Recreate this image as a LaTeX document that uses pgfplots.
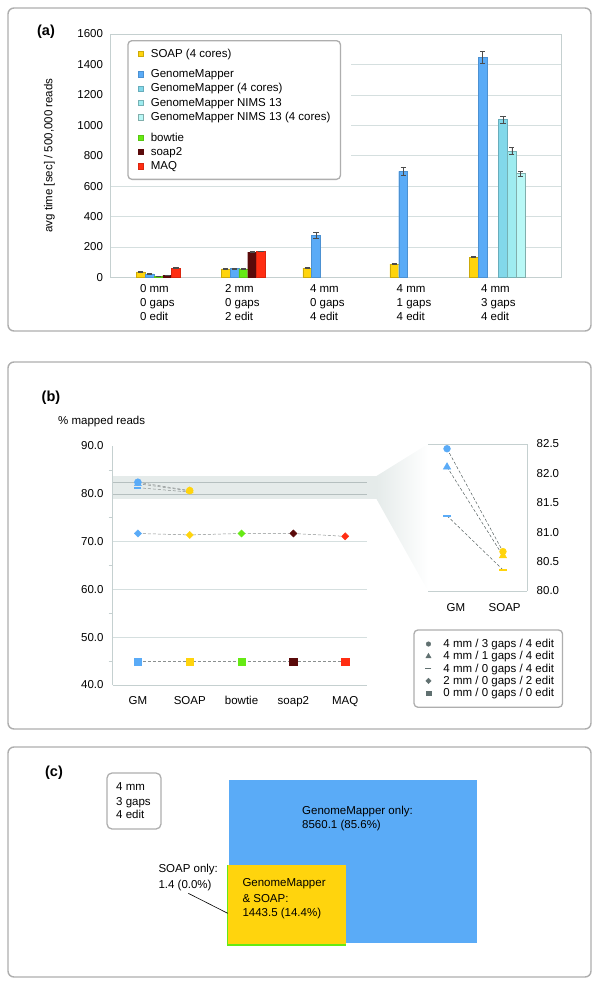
\documentclass[border=0pt]{standalone}
\usepackage{fontspec}
\setmainfont{Liberation Sans}
\usepackage{pgfplots}
\pgfplotsset{compat=1.18}

\definecolor{cSOAP}{HTML}{FFD40D}
\definecolor{cGM}{HTML}{5AABF7}
\definecolor{cGMf}{HTML}{82D8EA}
\definecolor{cNIMS}{HTML}{9EECF0}
\definecolor{cNIMSf}{HTML}{B9F8F6}
\definecolor{cBow}{HTML}{66EA14}
\definecolor{cSoapii}{HTML}{5A0A0A}
\definecolor{cMAQ}{HTML}{FF2D12}
\definecolor{gridc}{HTML}{D5DFDF}
\definecolor{axisc}{HTML}{C5D0D0}
\definecolor{framec}{HTML}{AEAEAE}
\definecolor{bandc}{HTML}{E5EBEA}
\definecolor{bandline}{HTML}{B5BFBF}
\definecolor{markgray}{HTML}{607070}
\definecolor{dashc}{HTML}{8A8F8F}
\definecolor{darkline}{HTML}{556060}

\newcommand{\chartfont}{\fontsize{11.5}{14}\selectfont}
\newcommand{\lr}{\rule[-2.5pt]{0pt}{11.1pt}}

\pgfplotsset{
  /pgf/number format/assume math mode=true,
  /pgf/number format/1000 sep={},
  sqlegend/.style={legend image code/.code={%
    \fill[line width=0.4pt, ##1, sharp corners] (0pt,-2.7pt) rectangle (5.4pt,2.7pt);
    \path[draw=none, fill=none] (0pt,0pt) -- (12.7pt,0pt);}},
  mklegend/.style={legend image code/.code={%
    \draw[line width=0.4pt, ##1, sharp corners] plot coordinates {(6pt,0pt)};
    \path[draw=none, fill=none] (0pt,0pt) -- (21pt,0pt);}},
}

\begin{document}
\begin{tikzpicture}
\useasboundingbox (0pt,0pt) rectangle (600pt,-984pt);

% panel frames
\draw[framec, line width=1.4pt, rounded corners=6pt] (8pt,-8pt) rectangle (591pt,-331pt);
\draw[framec, line width=1.4pt, rounded corners=6pt] (8pt,-362pt) rectangle (591pt,-729pt);
\draw[framec, line width=1.4pt, rounded corners=6pt] (8pt,-747pt) rectangle (591pt,-977pt);

% (a) run times
\begin{axis}[
  at={(110.5pt,-277.3pt)}, anchor=south west,
  scale only axis, width=450.5pt, height=243.3pt,
  xmin=0, xmax=450.5, ymin=0, ymax=1600,
  xtick={46.8,131.8,216.8,303.5,387.8},
  xticklabels={{0 mm\\0 gaps\\0 edit},{2 mm\\0 gaps\\2 edit},{4 mm\\0 gaps\\4 edit},{4 mm\\1 gaps\\4 edit},{4 mm\\3 gaps\\4 edit}},
  ytick={0,200,...,1600},
  tick label style={font=\chartfont},
  xticklabel style={align=left, anchor=north, yshift=-3.8pt},
  yticklabel style={xshift=-4pt},
  scaled y ticks=false,
  major tick length=0pt,
  ymajorgrids, grid style={gridc, line width=0.6pt},
  axis line style={axisc, line width=0.6pt},
  ylabel={avg time [sec] / 500,000 reads},
  ylabel style={font=\chartfont, at={(axis description cs:-0.1354,0.5)}, anchor=center},
  bar width=8.8,
  every axis plot/.append style={ybar, bar shift=0pt, line width=0.4pt, sqlegend},
  error bars/y dir=both, error bars/y explicit,
  error bars/error bar style={black!70, line width=0.6pt},
  error bars/error mark options={rotate=90, mark size=2.6pt, black!70, line width=0.6pt},
  legend cell align=left,
  legend style={at={(0.0373,0.9753)}, anchor=north west, draw=framec, line width=1.3pt,
    rounded corners=4pt, fill=white, inner xsep=10pt, inner ysep=8pt, row sep=4.3pt,
    font=\chartfont, nodes={inner sep=0pt}},
]
\fill[white] (axis cs:0.6,615) rectangle (axis cs:240,1575);

\addplot[fill=cSOAP, draw=cSOAP!80!black] coordinates {
  (30.3,36) +- (0,3) (115.2,56) +- (0,3) (196.7,61) +- (0,3) (283.8,87) +- (0,4) (363.3,133) +- (0,4)};
\addlegendentry{\lr SOAP (4 cores)}
\addlegendimage{empty legend}
\addlegendentry{\rule{0pt}{0.1pt}}
\addplot[fill=cGM, draw=cGM!85!black] coordinates {
  (39.1,23) +- (0,2) (124.0,58) +- (0,3) (205.5,276) +- (0,20) (292.6,697) +- (0,29) (372.1,1447) +- (0,41)};
\addlegendentry{\lr GenomeMapper}
\addplot[fill=cGMf, draw=cGMf!80!black] coordinates {(392.5,1037) +- (0,22)};
\addlegendentry{\lr GenomeMapper (4 cores)}
\addplot[fill=cNIMS, draw=cNIMS!75!black] coordinates {(401.3,829) +- (0,23)};
\addlegendentry{\lr GenomeMapper NIMS 13}
\addplot[fill=cNIMSf, draw=cNIMSf!70!black] coordinates {(410.1,682) +- (0,17)};
\addlegendentry{\lr GenomeMapper NIMS 13 (4 cores)}
\addlegendimage{empty legend}
\addlegendentry{\rule{0pt}{0.1pt}}
\addplot[fill=cBow, draw=cBow!85!black] coordinates {(47.9,6) +- (0,1) (132.8,55) +- (0,3)};
\addlegendentry{\lr bowtie}
\addplot[fill=cSoapii, draw=cSoapii] coordinates {(56.7,14) +- (0,2) (141.6,165) +- (0,3)};
\addlegendentry{\lr soap2}
\addplot[fill=cMAQ, draw=cMAQ!85!black] coordinates {(65.5,60) +- (0,3) (150.4,171) +- (0,3)};
\addlegendentry{\lr MAQ}
\end{axis}

% (b) zoom band and wedge
\fill[bandc] (112.5pt,-476pt) rectangle (376.7pt,-499pt);
\shade[left color=bandc, right color=white] (376.5pt,-476pt) -- (428pt,-444pt) -- (428pt,-591pt) -- (376.5pt,-499pt) -- cycle;
\draw[bandline, line width=0.6pt] (112.5pt,-481.9pt) -- (367pt,-481.9pt);
\draw[bandline, line width=0.6pt] (112.5pt,-493.8pt) -- (367pt,-493.8pt);

% (b) mapped reads
\begin{axis}[
  at={(112.5pt,-685pt)}, anchor=south west,
  scale only axis, width=254.5pt, height=239pt,
  xmin=-0.49, xmax=4.42, ymin=40, ymax=90,
  xtick={0,1,2,3,4}, xticklabels={GM,SOAP,bowtie,soap2,MAQ},
  ytick={40,50,60,70,80,90}, minor ytick={45,55,65,75,85},
  tick label style={font=\chartfont},
  xticklabel style={yshift=-8pt},
  yticklabel style={xshift=-5.4pt, /pgf/number format/.cd, fixed, fixed zerofill, precision=1},
  axis x line*=bottom, axis y line*=left,
  axis line style={axisc, line width=0.6pt, -},
  major tick length=0pt, minor tick length=4pt, tick align=outside,
  minor tick style={axisc, line width=0.6pt},
  clip=false,
  legend cell align=left,
  legend style={at={(1.182,0.233)}, anchor=north west, draw=framec, line width=1.3pt,
    rounded corners=4pt, fill=white, inner xsep=8.5pt, inner ysep=9pt, row sep=2.2pt,
    font=\chartfont, nodes={inner sep=0pt}},
]
\draw[gridc, line width=0.6pt] (axis cs:-0.49,50) -- (axis cs:4.42,50);
\draw[gridc, line width=0.6pt] (axis cs:-0.49,60) -- (axis cs:4.42,60);
\draw[gridc, line width=0.6pt] (axis cs:-0.49,70) -- (axis cs:4.42,70);

\addplot[forget plot, densely dashed, draw=dashc, line width=0.5pt, scatter, scatter src=explicit symbolic,
  mark=square*, mark size=3.8pt, mark options={solid},
  scatter/classes={a={cGM},b={cSOAP},c={cBow},d={cSoapii},e={cMAQ}}]
  table[meta=c] {
x y c
0 44.9 a
1 44.9 b
2 44.9 c
3 44.9 d
4 44.9 e
};
\addplot[forget plot, densely dashed, draw=dashc, line width=0.5pt, scatter, scatter src=explicit symbolic,
  mark=square*, mark size=2.5pt, mark options={solid, rotate=45},
  scatter/classes={a={cGM},b={cSOAP},c={cBow},d={cSoapii},e={cMAQ}}]
  table[meta=c] {
x y c
0 71.7 a
1 71.4 b
2 71.7 c
3 71.7 d
4 71.1 e
};
\addplot[forget plot, densely dashed, draw=dashc, line width=0.5pt, scatter, scatter src=explicit symbolic,
  mark=-, mark size=3.5pt, mark options={solid, line width=2pt},
  scatter/classes={a={cGM},b={cSOAP}}]
  table[meta=c] {
x y c
0 81.28 a
1 80.36 b
};
\addplot[forget plot, densely dashed, draw=dashc, line width=0.5pt, scatter, scatter src=explicit symbolic,
  mark=triangle*, mark size=4pt, mark options={solid},
  scatter/classes={a={cGM},b={cSOAP}}]
  table[meta=c] {
x y c
0 82.11 a
1 80.60 b
};
\addplot[forget plot, densely dashed, draw=dashc, line width=0.5pt, scatter, scatter src=explicit symbolic,
  mark=*, mark size=3.5pt, mark options={solid},
  scatter/classes={a={cGM},b={cSOAP}}]
  table[meta=c] {
x y c
0 82.42 a
1 80.67 b
};

\addlegendimage{only marks, mark=*, markgray, mark size=2.3pt, mklegend}
\addlegendentry{\lr 4 mm / 3 gaps / 4 edit}
\addlegendimage{only marks, mark=triangle*, markgray, mark size=3pt, mklegend}
\addlegendentry{\lr 4 mm / 1 gaps / 4 edit}
\addlegendimage{only marks, mark=-, markgray, mark size=3pt, mark options={line width=1.6pt}, mklegend}
\addlegendentry{\lr 4 mm / 0 gaps / 4 edit}
\addlegendimage{only marks, mark=square*, markgray, mark size=1.9pt, mark options={rotate=45}, mklegend}
\addlegendentry{\lr 2 mm / 0 gaps / 2 edit}
\addlegendimage{only marks, mark=square*, markgray, mark size=2.4pt, mklegend}
\addlegendentry{\lr 0 mm / 0 gaps / 0 edit}
\end{axis}

% (b) inset
\begin{axis}[
  at={(428pt,-591pt)}, anchor=south west,
  scale only axis, width=99pt, height=147pt,
  xmin=-0.34, xmax=1.43, ymin=80, ymax=82.5,
  xtick={0.16,1.03}, xticklabels={GM,SOAP},
  ytick={80,80.5,81,81.5,82,82.5},
  tick label style={font=\chartfont},
  xticklabel style={yshift=-9pt},
  yticklabel style={xshift=6.2pt, /pgf/number format/.cd, fixed, fixed zerofill, precision=1},
  axis x line*=bottom, axis y line*=right,
  axis line style={axisc, line width=0.6pt, -},
  major tick length=0pt,
  clip=false,
]
\draw[axisc, line width=0.6pt] (rel axis cs:0,1) -- (rel axis cs:1,1);
\addplot[densely dashed, draw=darkline, line width=0.5pt, scatter, scatter src=explicit symbolic,
  mark=-, mark size=4pt, mark options={solid, line width=2pt},
  scatter/classes={a={cGM},b={cSOAP}}]
  table[meta=c] {
x y c
0 81.28 a
1 80.36 b
};
\addplot[densely dashed, draw=darkline, line width=0.5pt, scatter, scatter src=explicit symbolic,
  mark=triangle*, mark size=4.2pt, mark options={solid},
  scatter/classes={a={cGM},b={cSOAP}}]
  table[meta=c] {
x y c
0 82.11 a
1 80.60 b
};
\addplot[densely dashed, draw=darkline, line width=0.5pt, scatter, scatter src=explicit symbolic,
  mark=*, mark size=3.4pt, mark options={solid},
  scatter/classes={a={cGM},b={cSOAP}}]
  table[meta=c] {
x y c
0 82.42 a
1 80.67 b
};
\end{axis}

% (c) overlap of mapped reads
\begin{axis}[
  at={(220pt,-950pt)}, anchor=south west,
  scale only axis, width=270pt, height=180pt,
  xmin=0, xmax=270, ymin=0, ymax=180,
  hide axis, clip=false, no markers,
]
\addplot[fill=cGM, draw=none] coordinates {(8.7,7.3) (257,7.3) (257,170) (8.7,170)} --cycle;
\addplot[fill=cSOAP, draw=none] coordinates {(7.3,5) (125.5,5) (125.5,84.7) (7.3,84.7)} --cycle;
\addplot[draw=cBow, line width=1.3pt] coordinates {(7.3,84.7) (7.3,5) (125.5,5)};
\addplot[draw=black, line width=0.6pt] coordinates {(-31.7,56.7) (7.7,36.7)};
\end{axis}

% labels
\node[font=\bfseries\fontsize{14.5}{16}\selectfont] at (46pt,-32pt) {(a)};
\node[font=\bfseries\fontsize{14.5}{16}\selectfont] at (51pt,-398pt) {(b)};
\node[font=\bfseries\fontsize{14.5}{16}\selectfont] at (54pt,-773pt) {(c)};
\node[font=\chartfont, anchor=base west, inner sep=0pt] at (58pt,-424pt) {\% mapped reads};

\draw[framec, line width=1.3pt, rounded corners=5pt] (107pt,-773pt) rectangle (161pt,-829pt);
\node[font=\chartfont, anchor=base west, inner sep=0pt] at (116pt,-790.8pt) {4 mm};
\node[font=\chartfont, anchor=base west, inner sep=0pt] at (116pt,-805.1pt) {3 gaps};
\node[font=\chartfont, anchor=base west, inner sep=0pt] at (116pt,-818.4pt) {4 edit};

\node[font=\chartfont, anchor=base west, inner sep=0pt] at (302pt,-814.1pt) {GenomeMapper only:};
\node[font=\chartfont, anchor=base west, inner sep=0pt] at (302pt,-828.4pt) {8560.1 (85.6\%)};
\node[font=\chartfont, anchor=base west, inner sep=0pt] at (242.3pt,-886.8pt) {GenomeMapper};
\node[font=\chartfont, anchor=base west, inner sep=0pt] at (242.3pt,-902.1pt) {\& SOAP:};
\node[font=\chartfont, anchor=base west, inner sep=0pt] at (242.3pt,-916.4pt) {1443.5 (14.4\%)};
\node[font=\chartfont, anchor=base west, inner sep=0pt] at (158.3pt,-872.4pt) {SOAP only:};
\node[font=\chartfont, anchor=base west, inner sep=0pt] at (158.3pt,-888.1pt) {1.4 (0.0\%)};
\end{tikzpicture}
\end{document}
